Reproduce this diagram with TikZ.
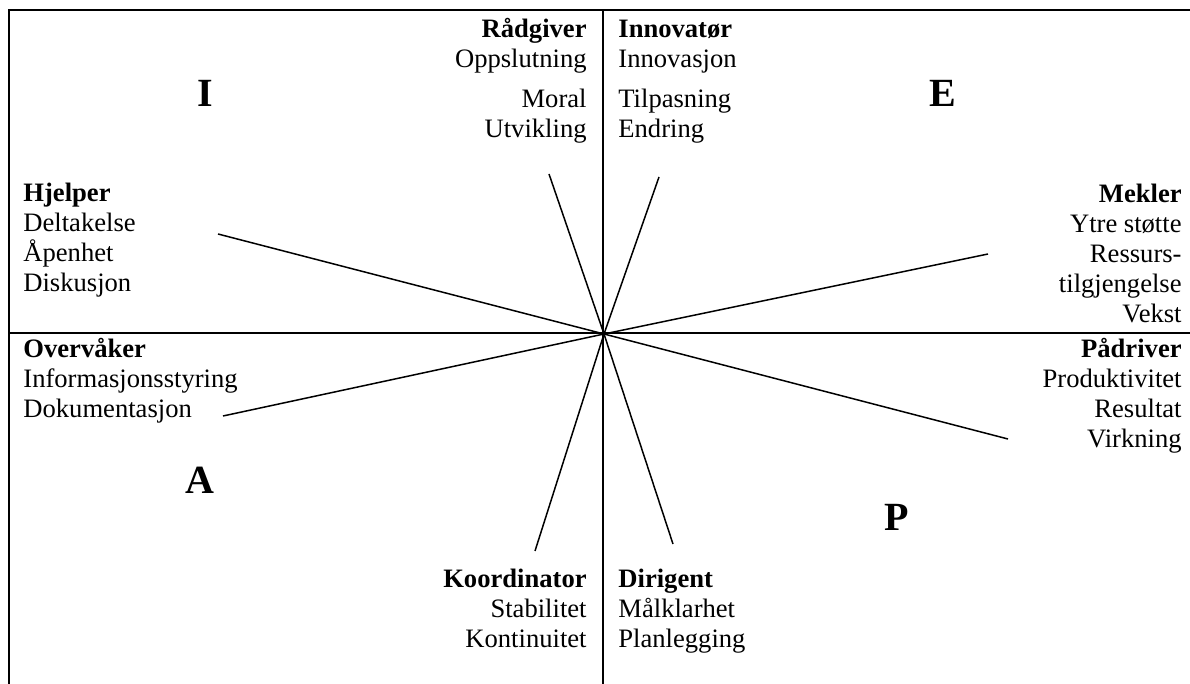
\documentclass[tikz,border=0pt]{standalone}
\usepackage{fontspec}
\setmainfont{Liberation Serif}
\usepackage{tikz}

\begin{document}
\begin{tikzpicture}[x=0.5pt, y=-0.5pt,
        role/.style={inner sep=0pt, font=\fontsize{13.3}{15}\selectfont},
        left role/.style={role, align=left, anchor=base west},
        right role/.style={role, align=right, anchor=base east},
        quadrant/.style={inner sep=0pt, font=\fontsize{20}{24}\selectfont\bfseries},
        frame/.style={line width=1pt},
        spoke/.style={line width=0.75pt}]
        \useasboundingbox (0,0) rectangle (1190,684);

        \draw[frame] (9,684) -- (9,10) -- (1190,10);
        \draw[frame] (9,333) -- (1190,333);
        \draw[frame] (603,10) -- (603,684);

        \node[quadrant](I) at (205,93) {I};
        \node[quadrant](E) at (943,93) {E};
        \node[quadrant](A) at (200,480) {A};
        \node[quadrant](P) at (897,517) {P};

        % anchored at the baseline of the last line
        \node[right role](Radgiver) at (587,138) {\textbf{Rådgiver}\\Oppslutning\\[5pt]Moral\\Utvikling};
        \node[left role](Innovator) at (618,138) {\textbf{Innovatør}\\Innovasjon\\[5pt]Tilpasning\\Endring};
        \node[left role](Hjelper) at (23,292) {\textbf{Hjelper}\\Deltakelse\\Åpenhet\\Diskusjon};
        \node[right role](Mekler) at (1182,323) {\textbf{Mekler}\\Ytre støtte\\Ressurs-\\tilgjengelse\\Vekst};
        \node[left role](Overvaker) at (23,418) {\textbf{Overvåker}\\Informasjonsstyring\\Dokumentasjon};
        \node[right role](Padriver) at (1182,448) {\textbf{Pådriver}\\Produktivitet\\Resultat\\Virkning};
        \node[right role](Koordinator) at (587,647) {\textbf{Koordinator}\\Stabilitet\\Kontinuitet};
        \node[left role](Dirigent) at (618,647) {\textbf{Dirigent}\\Målklarhet\\Planlegging};

        \coordinate (centre) at (604,334);
        \coordinate (Radgiver end) at (549,174);
        \coordinate (Innovator end) at (659,177);
        \coordinate (Hjelper end) at (218,234);
        \coordinate (Mekler end) at (988,254);
        \coordinate (Overvaker end) at (223,416);
        \coordinate (Padriver end) at (1008,439);
        \coordinate (Koordinator end) at (535,551);
        \coordinate (Dirigent end) at (673,544);

        \draw[spoke] (centre) -- (Radgiver end);
        \draw[spoke] (centre) -- (Innovator end);
        \draw[spoke] (centre) -- (Hjelper end);
        \draw[spoke] (centre) -- (Mekler end);
        \draw[spoke] (centre) -- (Overvaker end);
        \draw[spoke] (centre) -- (Padriver end);
        \draw[spoke] (centre) -- (Koordinator end);
        \draw[spoke] (centre) -- (Dirigent end);
    \end{tikzpicture}
\end{document}
